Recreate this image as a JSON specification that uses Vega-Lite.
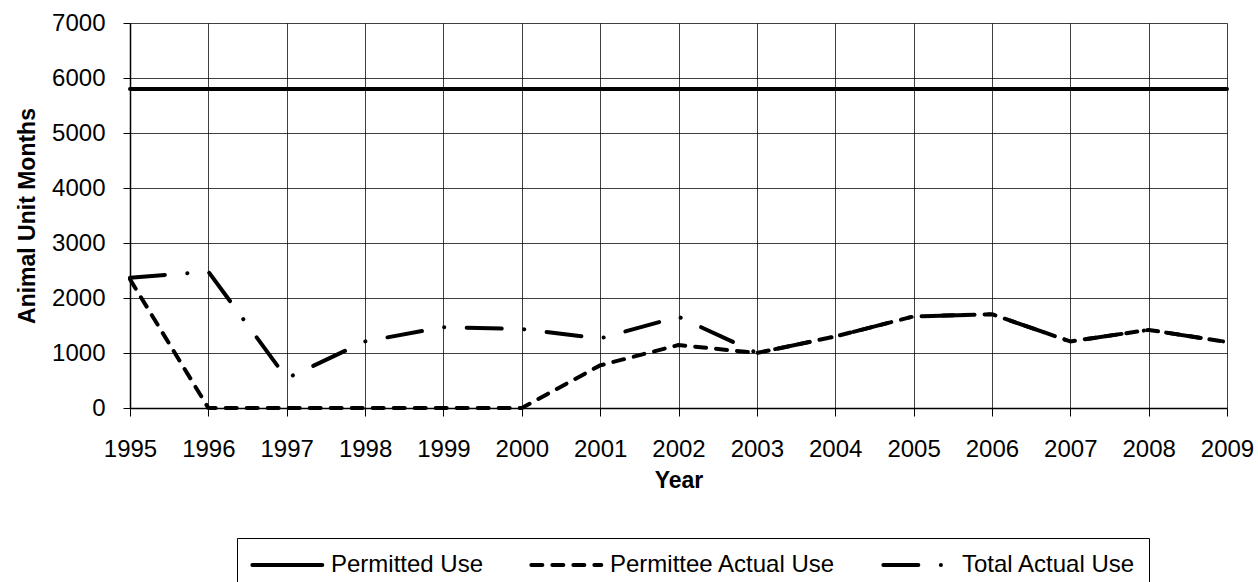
{
  "$schema": "https://vega.github.io/schema/vega-lite/v6.json",
  "width": 1097,
  "height": 385,
  "autosize": {"type": "none"},
  "padding": {"left": 130, "top": 23, "right": 31, "bottom": 174},
  "background": "white",
  "config": {
    "font": "Liberation Sans",
    "view": {"stroke": null}
  },
  "data": {
    "values": [
      {"year": 1995, "series": "Permitted Use", "value": 5800},
      {"year": 1996, "series": "Permitted Use", "value": 5800},
      {"year": 1997, "series": "Permitted Use", "value": 5800},
      {"year": 1998, "series": "Permitted Use", "value": 5800},
      {"year": 1999, "series": "Permitted Use", "value": 5800},
      {"year": 2000, "series": "Permitted Use", "value": 5800},
      {"year": 2001, "series": "Permitted Use", "value": 5800},
      {"year": 2002, "series": "Permitted Use", "value": 5800},
      {"year": 2003, "series": "Permitted Use", "value": 5800},
      {"year": 2004, "series": "Permitted Use", "value": 5800},
      {"year": 2005, "series": "Permitted Use", "value": 5800},
      {"year": 2006, "series": "Permitted Use", "value": 5800},
      {"year": 2007, "series": "Permitted Use", "value": 5800},
      {"year": 2008, "series": "Permitted Use", "value": 5800},
      {"year": 2009, "series": "Permitted Use", "value": 5800},
      {"year": 1995, "series": "Total Actual Use", "value": 2370},
      {"year": 1996, "series": "Total Actual Use", "value": 2480},
      {"year": 1997, "series": "Total Actual Use", "value": 540},
      {"year": 1998, "series": "Total Actual Use", "value": 1210},
      {"year": 1999, "series": "Total Actual Use", "value": 1470},
      {"year": 2000, "series": "Total Actual Use", "value": 1435},
      {"year": 2001, "series": "Total Actual Use", "value": 1265},
      {"year": 2002, "series": "Total Actual Use", "value": 1660},
      {"year": 2003, "series": "Total Actual Use", "value": 1000},
      {"year": 2004, "series": "Total Actual Use", "value": 1300},
      {"year": 2005, "series": "Total Actual Use", "value": 1665},
      {"year": 2006, "series": "Total Actual Use", "value": 1705},
      {"year": 2007, "series": "Total Actual Use", "value": 1210},
      {"year": 2008, "series": "Total Actual Use", "value": 1420},
      {"year": 2009, "series": "Total Actual Use", "value": 1200},
      {"year": 1995, "series": "Permittee Actual Use", "value": 2340},
      {"year": 1996, "series": "Permittee Actual Use", "value": 0},
      {"year": 1997, "series": "Permittee Actual Use", "value": 0},
      {"year": 1998, "series": "Permittee Actual Use", "value": 0},
      {"year": 1999, "series": "Permittee Actual Use", "value": 0},
      {"year": 2000, "series": "Permittee Actual Use", "value": 0},
      {"year": 2001, "series": "Permittee Actual Use", "value": 775},
      {"year": 2002, "series": "Permittee Actual Use", "value": 1145},
      {"year": 2003, "series": "Permittee Actual Use", "value": 1000},
      {"year": 2004, "series": "Permittee Actual Use", "value": 1300},
      {"year": 2005, "series": "Permittee Actual Use", "value": 1665},
      {"year": 2006, "series": "Permittee Actual Use", "value": 1705},
      {"year": 2007, "series": "Permittee Actual Use", "value": 1210},
      {"year": 2008, "series": "Permittee Actual Use", "value": 1420},
      {"year": 2009, "series": "Permittee Actual Use", "value": 1200}
    ]
  },
  "mark": {"type": "line", "color": "#000", "strokeWidth": 4, "strokeCap": "round", "strokeJoin": "round"},
  "encoding": {
    "x": {
      "field": "year",
      "type": "quantitative",
      "scale": {"domain": [1995, 2009], "nice": false, "zero": false},
      "axis": {
        "values": [1995, 1996, 1997, 1998, 1999, 2000, 2001, 2002, 2003, 2004, 2005, 2006, 2007, 2008, 2009],
        "format": "d",
        "title": "Year",
        "labelPadding": 21,
        "titlePadding": 8,
        "labelFlush": false,
        "labelOverlap": false,
        "labelFont": "Liberation Sans",
        "labelFontSize": 24,
        "labelColor": "#000",
        "titleFont": "Liberation Sans",
        "titleFontSize": 23,
        "titleFontWeight": "bold",
        "titleColor": "#000",
        "domainColor": "#000",
        "domainWidth": 1.5,
        "tickColor": "#000",
        "tickSize": 8,
        "gridColor": "#000",
        "gridOpacity": 0.75,
        "gridWidth": 1
      }
    },
    "y": {
      "field": "value",
      "type": "quantitative",
      "scale": {"domain": [0, 7000], "nice": false},
      "axis": {
        "values": [0, 1000, 2000, 3000, 4000, 5000, 6000, 7000],
        "format": "d",
        "title": "Animal Unit Months",
        "labelPadding": 18,
        "titlePadding": 12,
        "labelOverlap": false,
        "labelFont": "Liberation Sans",
        "labelFontSize": 24,
        "labelColor": "#000",
        "titleFont": "Liberation Sans",
        "titleFontSize": 23,
        "titleFontWeight": "bold",
        "titleColor": "#000",
        "domainColor": "#000",
        "domainWidth": 1.5,
        "tickColor": "#000",
        "tickSize": 7,
        "gridColor": "#000",
        "gridOpacity": 0.75,
        "gridWidth": 1
      }
    },
    "strokeDash": {
      "field": "series",
      "type": "nominal",
      "scale": {
        "domain": ["Permitted Use", "Permittee Actual Use", "Total Actual Use"],
        "range": [[1, 0], [11, 10], [35, 22.5, 0.1, 22.5]]
      },
      "legend": {
        "title": null,
        "orient": "none",
        "legendX": 107,
        "legendY": 515,
        "direction": "horizontal",
        "columns": 3,
        "columnPadding": 39,
        "symbolType": "M-1,0H5",
        "symbolSize": 544,
        "symbolStrokeWidth": 4,
        "symbolStrokeColor": "#000",
        "symbolFillColor": "transparent",
        "labelOffset": 53,
        "labelFont": "Liberation Sans",
        "labelFontSize": 24,
        "labelColor": "#000",
        "strokeColor": "#000",
        "padding": 13,
        "labelLimit": 400,
        "encode": {
          "symbols": {"update": {"strokeCap": {"value": "round"}}}
        }
      }
    }
  }
}
